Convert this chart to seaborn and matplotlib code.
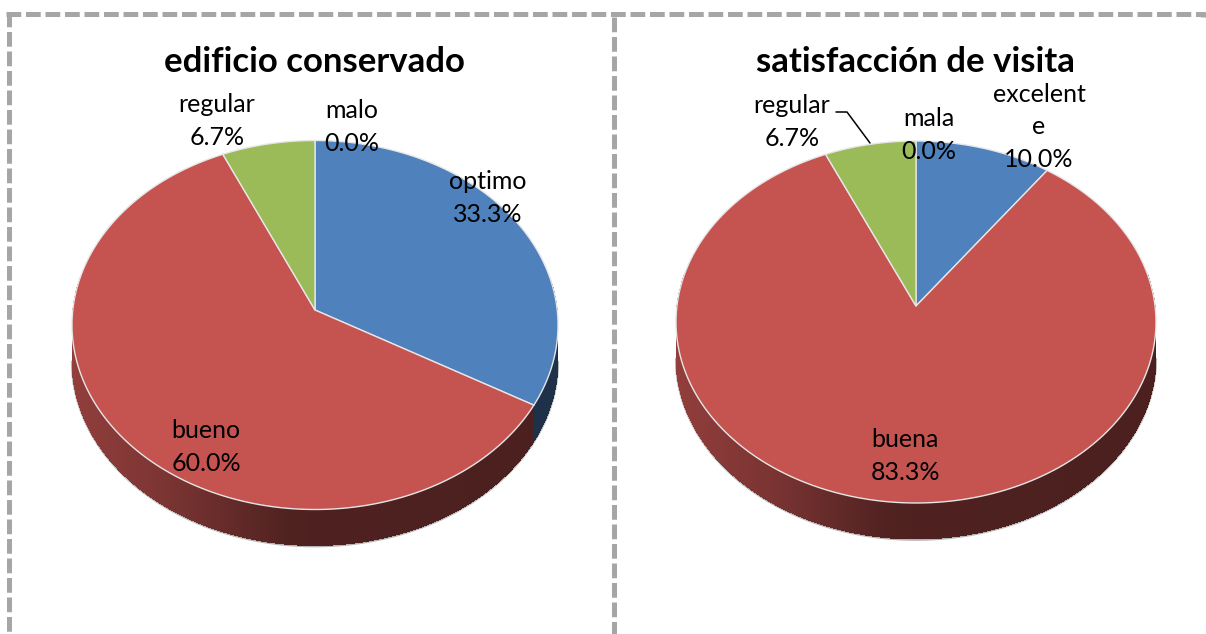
import numpy as np
import matplotlib
matplotlib.use("Agg")
import matplotlib.pyplot as plt
from matplotlib.lines import Line2D
from matplotlib.patches import Polygon
import seaborn as sns

# values
edificio_names = ["optimo", "bueno", "regular", "malo"]
edificio_values = [33.3, 60.0, 6.7, 0.0]
visita_names = ["excelent\ne", "buena", "regular", "mala"]
visita_values = [10.0, 83.3, 6.7, 0.0]

W, H = 1206, 634
BLUE, RED, GREEN = "#4f81bd", "#c55451", "#9bbb59"
FONT = "Lato"

sns.set_theme(style="white")
plt.rcParams["font.family"] = [FONT, "DejaVu Sans"]
palette = sns.color_palette([BLUE, RED, GREEN, BLUE])

fig = plt.figure(figsize=(W / 100, H / 100), dpi=100, facecolor="white")


def px_text(x, y, s, **kw):
    fig.text(x / W, 1 - y / H, s, ha="center", va="center", color="black", **kw)


def warp(x, y, a):
    # moves the pie apex off centre, the rim stays on the same ellipse
    d = 1 + a * y
    return x * np.sqrt(1 - a * a) / d, (y + a) / d


def pie3d(box, cx, cy, rx, ry, apex_y, depth, values):
    x0, x1 = box
    ax = fig.add_axes([x0 / W, 0, (x1 - x0) / W, 1])
    wedges, _ = ax.pie(values, colors=palette, startangle=90, counterclock=False, radius=1)
    ax.set_aspect("auto")
    ax.set_xlim((x0 - cx) / rx, (x1 - cx) / rx)
    ax.set_ylim((cy - H) / ry, cy / ry)
    a = (cy - apex_y) / ry
    dy = depth / ry

    t = np.radians(np.linspace(180, 360, 200))
    ax.plot(np.cos(t), np.sin(t) - dy - 0.004, color="#b5b5b5", lw=1.6, zorder=1.9)

    # side wall, front half only (clockwise pie angles run negative)
    for w in wedges:
        w.set_visible(False)
        t1, t2 = max(w.theta1, -190), min(w.theta2, 10)
        for lo in np.arange(t1, t2, 0.25):
            t = np.radians([lo, min(lo + 0.3, t2)])
            xs, ys = warp(np.cos(t), np.sin(t), a)
            shade = np.interp(xs.mean(), [-1, -0.6, -0.1, 1], [0.74, 0.62, 0.4, 0.38])
            col = np.array(w.get_facecolor()[:3]) * shade
            ax.add_patch(Polygon(
                [(xs[0], ys[0]), (xs[1], ys[1]), (xs[1], ys[1] - dy), (xs[0], ys[0] - dy)],
                closed=True, facecolor=col, edgecolor="none", antialiased=False, zorder=2))

    # top faces
    for w in wedges:
        if w.theta2 - w.theta1 <= 0:
            continue
        t = np.radians(np.linspace(w.theta1, w.theta2, 240))
        xs = np.r_[np.cos(t), 0]
        ys = np.r_[np.sin(t), 0]
        wx, wy = warp(xs, ys, a)
        ax.add_patch(Polygon(np.c_[wx, wy], closed=True, facecolor=w.get_facecolor(),
                             edgecolor="#e6e6e6", lw=1.0, joinstyle="round", zorder=3))
    return ax


pie3d((0, 612), 315, 325, 243, 184.5, 310, 36, edificio_values)
pie3d((612, W), 916, 322, 240, 181, 306, 36, visita_values)

# dashed frame of the two panels
frame = fig.add_axes([0, 0, 1, 1], facecolor="none")
frame.set_xlim(0, W)
frame.set_ylim(H, 0)
frame.axis("off")
dash = dict(color="#a6a6a6", lw=3.6, linestyle=(0, (2.95, 0.95)), dash_capstyle="butt")
frame.add_line(Line2D([6, 1205], [14, 14], **dash))
frame.add_line(Line2D([8.6, 8.6], [12, H], **dash))
frame.add_line(Line2D([613.5, 613.5], [17, H], **dash))
frame.add_line(Line2D([1202.5, 1202.5], [12, 17], color="#a6a6a6", lw=3.6, solid_capstyle="butt"))

# leader line of the "regular" label, right pie
frame.add_line(Line2D([836, 847, 870], [112, 112, 143], color="black", lw=1.1))

px_text(314, 62, "edificio conservado", fontsize=25, fontweight="bold")
px_text(915, 62, "satisfacción de visita", fontsize=25, fontweight="bold")

label_pos_left = [(488, 198), (206, 447), (217, 121), (352, 127)]
label_pos_right = [(1039, 127), (905, 456), (792, 122), (929, 135)]

for names, values, pos in [(edificio_names, edificio_values, label_pos_left),
                           (visita_names, visita_values, label_pos_right)]:
    for name, value, (x, y) in zip(names, values, pos):
        px_text(x, y, f"{name}\n{value:.1f}%", fontsize=18, linespacing=1.52)

fig.savefig("out.png", dpi=100)
